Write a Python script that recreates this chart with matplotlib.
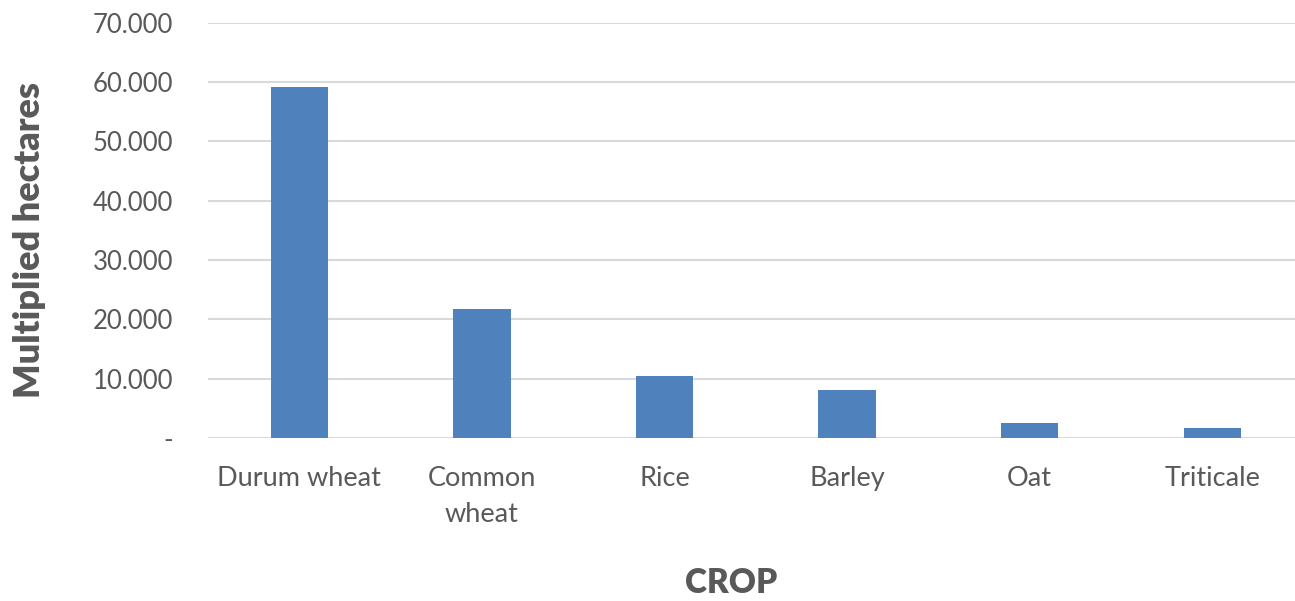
import matplotlib
matplotlib.use("Agg")
import matplotlib.pyplot as plt
from matplotlib.ticker import FuncFormatter

crops = ["Durum wheat", "Common\nwheat", "Rice", "Barley", "Oat", "Triticale"]
hectares = [59200, 21700, 10400, 8050, 2470, 1630]
yticks = [0, 10000, 20000, 30000, 40000, 50000, 60000, 70000]

plt.rcParams['font.family'] = ['Lato', 'DejaVu Sans']
W, H = 1295, 601
fig = plt.figure(figsize=(W/100, H/100), dpi=100)
left, right = 208, 1295
bottom, top = 438, 22.7
ax = fig.add_axes([left/W, 1 - bottom/H, (right-left)/W, (bottom-top)/H])

x = list(range(len(crops)))
ax.bar(x, hectares, width=0.314, color="#4F81BD", zorder=3)
ax.set_xlim(-0.5, -0.5 + (right - left) / 182.6)
ax.set_ylim(0, 70000)
ax.set_yticks(yticks)
ax.yaxis.set_major_formatter(FuncFormatter(lambda v, p: "-" if v == 0 else f"{int(v):,}".replace(",", ".")))
ax.set_xticks(x)
ax.set_xticklabels(crops, linespacing=1.55)
ax.grid(axis="y", color="#D9D9D9", linewidth=1.5, zorder=0)
for s in ax.spines.values():
    s.set_visible(False)
ax.tick_params(axis="y", length=0, labelsize=18.5, labelcolor="#595959", pad=25)
ax.tick_params(axis="x", length=0, labelsize=19.5, labelcolor="#595959", pad=20)

fig.text(30/W, 1 - 240/H, "Multiplied hectares", rotation=90, ha="center", va="center",
         fontsize=26, fontweight="heavy", color="#595959")
fig.text(731/W, 1 - 583/H, "CROP", ha="center", va="center",
         fontsize=24, fontweight="heavy", color="#595959")

fig.savefig("out.png", dpi=100)
